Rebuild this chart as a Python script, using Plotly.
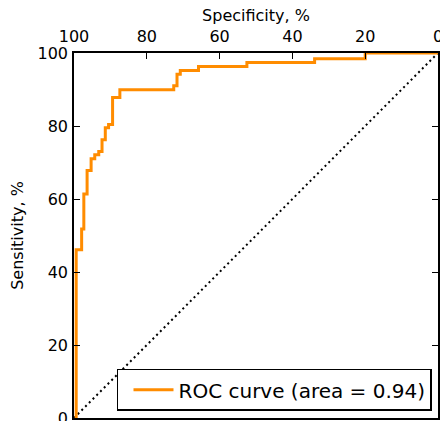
import plotly.graph_objects as go

# ROC curve corner points (specificity %, sensitivity %), step shape 'vh'
specificity = [99.4, 97.9, 97.3, 96.4, 95.3, 94.3, 93.2, 92.3, 91.4, 90.5, 89.4,
               87.4, 72.6, 71.7, 70.8, 65.8, 52.5, 33.9, 20.0, 0.0]
sensitivity = [0.0, 46.1, 51.8, 61.4, 67.8, 71.0, 72.1, 73.0, 76.2, 79.5, 80.4,
               87.8, 89.9, 91.0, 94.2, 95.2, 96.3, 97.4, 98.4, 100.0]
chance_spec = [100, 0]
chance_sens = [0, 100]
tick_vals = [0, 20, 40, 60, 80, 100]
legend_label = "ROC curve (area = 0.94)"

FONT = "DejaVu Sans"

fig = go.Figure()
fig.add_trace(go.Scatter(
    x=chance_spec, y=chance_sens, mode="lines",
    line=dict(color="black", width=2, dash="2px,3.3px"),
    showlegend=False, hoverinfo="skip"))
fig.add_trace(go.Scatter(
    x=specificity, y=sensitivity, mode="lines", line_shape="vh",
    line=dict(color="#ff8c00", width=3), name=legend_label))

axis_common = dict(
    showgrid=False, zeroline=False, showline=True, linecolor="black", linewidth=1.5,
    ticks="inside", ticklen=6, tickwidth=1.2, tickcolor="black",
    tickvals=tick_vals, tickfont=dict(family=FONT, size=16, color="black"),
    automargin=False, ticklabeloverflow="allow",
)

fig.update_layout(
    width=440, height=421,
    margin=dict(l=73.5, r=2, t=53, b=3),
    paper_bgcolor="white", plot_bgcolor="white",
    font=dict(family=FONT, color="black"),
    xaxis=dict(range=[100, 0], side="top", mirror=True, ticklabelstandoff=3,
               title=dict(text="Specificity, %", font=dict(family=FONT, size=16), standoff=1),
               **axis_common),
    yaxis=dict(range=[0, 100], mirror="ticks", ticklabelstandoff=1,
               title=dict(text="Sensitivity, %", font=dict(family=FONT, size=16), standoff=10),
               **axis_common),
    legend=dict(x=0.9835, y=0.02, xanchor="right", yanchor="bottom",
                bgcolor="white", bordercolor="black", borderwidth=1.5,
                itemwidth=40, indentation=10,
                font=dict(family=FONT, size=20, color="black")),
)

fig.write_html(
    "out.html",
    config={"displayModeBar": False},
    post_script="document.body.style.margin='0';document.body.style.overflow='hidden';",
)
